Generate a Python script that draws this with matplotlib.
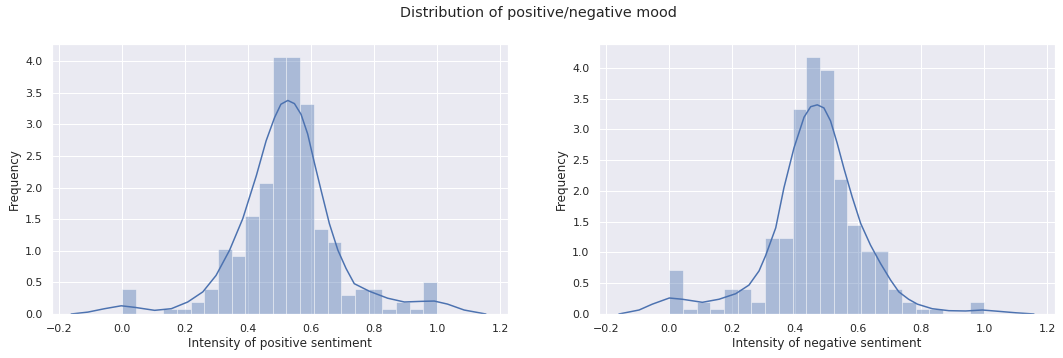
import matplotlib
matplotlib.use("Agg")
import matplotlib.pyplot as plt
import seaborn as sns
import numpy as np

# histogram (density) heights, 23 equal bins over [0, 1]
pos_heights = [0.395, 0, 0, 0.079, 0.079, 0.19, 0.395, 1.03, 0.92, 1.55, 2.07, 4.07,
               4.07, 3.33, 1.34, 1.14, 0.305, 0.395, 0.395, 0.079, 0.19, 0.079, 0.505]
neg_heights = [0.71, 0.081, 0.195, 0.081, 0.405, 0.405, 0.195, 1.23, 1.23, 3.34, 4.18, 3.97,
               2.19, 1.44, 1.02, 1.02, 0.405, 0.195, 0.081, 0.081, 0, 0, 0.195]
bin_edges = np.linspace(0, 1, 24)

# kde curves
pos_kde_x = [-0.162, -0.109, -0.056, -0.003, 0.040, 0.103, 0.156, 0.208, 0.256, 0.298,
             0.341, 0.383, 0.426, 0.457, 0.484, 0.504, 0.526, 0.547, 0.568, 0.589, 0.610,
             0.632, 0.658, 0.685, 0.711, 0.737, 0.785, 0.843, 0.896, 0.949, 0.991, 1.033,
             1.086, 1.155]
pos_kde_y = [0.0, 0.03, 0.084, 0.13, 0.105, 0.058, 0.084, 0.19, 0.35, 0.61,
             1.01, 1.51, 2.19, 2.74, 3.11, 3.32, 3.38, 3.33, 3.16, 2.85, 2.40,
             1.95, 1.43, 1.01, 0.72, 0.48, 0.36, 0.25, 0.19, 0.20, 0.205, 0.157,
             0.063, 0.0]
neg_kde_x = [-0.160, -0.096, -0.054, 0.0, 0.041, 0.105, 0.158, 0.211, 0.253, 0.285,
             0.306, 0.338, 0.364, 0.396, 0.428, 0.449, 0.470, 0.491, 0.512, 0.533, 0.555,
             0.581, 0.608, 0.639, 0.671, 0.703, 0.729, 0.760, 0.788, 0.835, 0.888, 0.941,
             0.994, 1.047, 1.100, 1.158]
neg_kde_y = [0.0, 0.065, 0.16, 0.26, 0.24, 0.19, 0.24, 0.33, 0.47, 0.70,
             0.95, 1.40, 2.05, 2.70, 3.20, 3.37, 3.40, 3.35, 3.14, 2.78, 2.36,
             1.90, 1.47, 1.12, 0.82, 0.55, 0.36, 0.24, 0.16, 0.086, 0.054, 0.049,
             0.065, 0.043, 0.02, 0.0]

sns.set_theme()
color = sns.color_palette()[0]

fig = plt.figure(figsize=(1063 / 72, 358 / 72), dpi=72)
fig.subplots_adjust(left=52 / 1063, right=1055 / 1063, bottom=1 - 314 / 358,
                    top=1 - 44 / 358, wspace=0.2)
axes = fig.subplots(1, 2)

panels = [(pos_heights, pos_kde_x, pos_kde_y, "Intensity of positive sentiment"),
          (neg_heights, neg_kde_x, neg_kde_y, "Intensity of negative sentiment")]

for ax, (heights, kx, ky, xlabel) in zip(axes, panels):
    ax.bar(bin_edges[:-1], heights, width=np.diff(bin_edges), align="edge",
           color=color, alpha=0.4, edgecolor="white", linewidth=1)
    ax.plot(kx, ky, color=color, lw=1.5, solid_joinstyle="round")
    ax.set_xlim(-0.223, 1.225)
    ax.set_xticks([-0.2, 0.0, 0.2, 0.4, 0.6, 0.8, 1.0, 1.2])
    ax.set_xlabel(xlabel)
    ax.set_ylabel("Frequency")

fig.suptitle("Distribution of positive/negative mood", x=538 / 1063, y=1 - 6 / 358,
             va="top", fontsize=14.4)

plt.savefig("out.png", dpi=72)
